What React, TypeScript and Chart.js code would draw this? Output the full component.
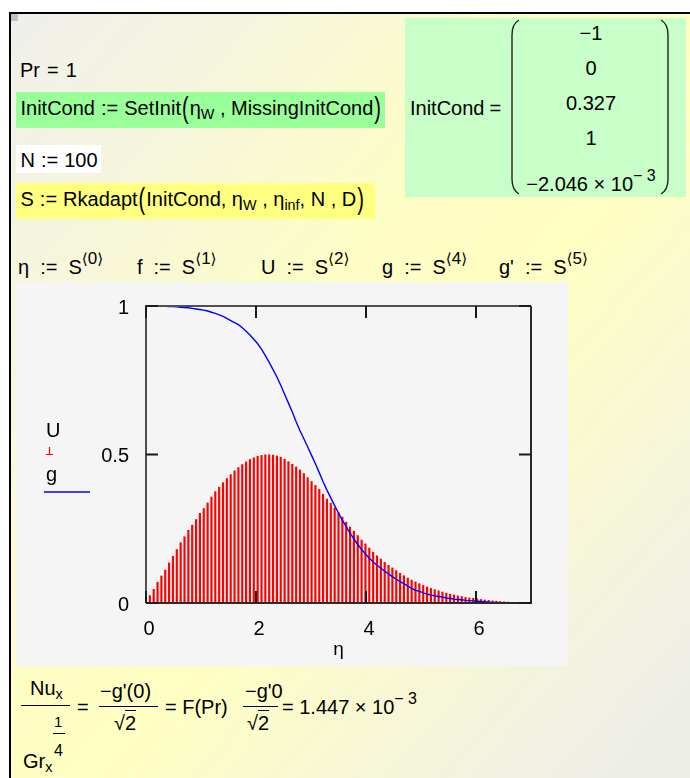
import React, { useEffect, useRef } from "react";
import { Chart, registerables } from "chart.js";

Chart.register(...registerables);

// Similarity variable η (N = 100 steps from η_w = 0 to η_inf = 7)
const etaValues = [
  0, 0.07, 0.14, 0.21, 0.28, 0.35, 0.42, 0.49, 0.56, 0.63,
  0.7, 0.77, 0.84, 0.91, 0.98, 1.05, 1.12, 1.19, 1.26, 1.33,
  1.4, 1.47, 1.54, 1.61, 1.68, 1.75, 1.82, 1.89, 1.96, 2.03,
  2.1, 2.17, 2.24, 2.31, 2.38, 2.45, 2.52, 2.59, 2.66, 2.73,
  2.8, 2.87, 2.94, 3.01, 3.08, 3.15, 3.22, 3.29, 3.36, 3.43,
  3.5, 3.57, 3.64, 3.71, 3.78, 3.85, 3.92, 3.99, 4.06, 4.13,
  4.2, 4.27, 4.34, 4.41, 4.48, 4.55, 4.62, 4.69, 4.76, 4.83,
  4.9, 4.97, 5.04, 5.11, 5.18, 5.25, 5.32, 5.39, 5.46, 5.53,
  5.6, 5.67, 5.74, 5.81, 5.88, 5.95, 6.02, 6.09, 6.16, 6.23,
  6.3, 6.37, 6.44, 6.51, 6.58, 6.65, 6.72, 6.79, 6.86, 6.93,
  7,
];

// Velocity profile U = S<2>
const uValues = [
  0, 0.025, 0.046, 0.07, 0.091, 0.111, 0.135, 0.157, 0.18, 0.203,
  0.223, 0.245, 0.262, 0.281, 0.302, 0.318, 0.337, 0.357, 0.375, 0.39,
  0.405, 0.419, 0.432, 0.445, 0.456, 0.466, 0.475, 0.483, 0.489, 0.494,
  0.497, 0.499, 0.499, 0.498, 0.495, 0.491, 0.484, 0.476, 0.467, 0.458,
  0.448, 0.436, 0.422, 0.409, 0.396, 0.383, 0.366, 0.35, 0.336, 0.32,
  0.304, 0.289, 0.272, 0.256, 0.242, 0.227, 0.212, 0.199, 0.185, 0.171,
  0.159, 0.148, 0.137, 0.127, 0.118, 0.109, 0.1, 0.092, 0.084, 0.077,
  0.071, 0.065, 0.059, 0.054, 0.049, 0.045, 0.041, 0.037, 0.033, 0.03,
  0.027, 0.024, 0.022, 0.019, 0.017, 0.016, 0.014, 0.012, 0.01, 0.009,
  0.007, 0.006, 0.005, 0.004, 0.003, 0.002, 0.002, 0.001, 0.001, 0.001,
  0,
];

// Temperature profile g = S<4>
const gValues = [
  1, 1, 1, 1, 0.999, 0.999, 0.998, 0.998, 0.997, 0.996,
  0.995, 0.994, 0.992, 0.99, 0.988, 0.986, 0.983, 0.979, 0.975, 0.97,
  0.965, 0.958, 0.951, 0.944, 0.937, 0.927, 0.915, 0.902, 0.888, 0.873,
  0.855, 0.833, 0.81, 0.786, 0.761, 0.733, 0.703, 0.673, 0.643, 0.61,
  0.58, 0.553, 0.525, 0.497, 0.469, 0.439, 0.408, 0.38, 0.354, 0.328,
  0.303, 0.279, 0.257, 0.235, 0.216, 0.197, 0.18, 0.165, 0.151, 0.138,
  0.127, 0.117, 0.107, 0.098, 0.089, 0.08, 0.072, 0.065, 0.057, 0.049,
  0.043, 0.039, 0.034, 0.03, 0.027, 0.024, 0.022, 0.02, 0.017, 0.015,
  0.013, 0.012, 0.011, 0.009, 0.008, 0.007, 0.006, 0.005, 0.004, 0.003,
  0.002, 0.002, 0.001, 0.001, 0.001, 0, 0, 0, 0, 0,
  0,
];

const xTickValues = [0, 2, 4, 6];
const yTickValues = [0, 0.5, 1];
const xRange = [0, 7];
const yRange = [0, 1];

// Initial-condition vector shown in the matrix
const initCondRows = ["\u22121", "0", "0.327", "1"];

const FONT = '"Liberation Sans", Arial, Helvetica, sans-serif';
const INK = "#000";

// Mathcad-style plot frame with inward ticks on all four sides
const framePlugin = {
  id: "mathcadFrame",
  afterDatasetsDraw(chart: any) {
    const { ctx, chartArea: a, scales } = chart;
    const xs = scales.x;
    const ys = scales.y;
    const len = 12;
    ctx.save();
    ctx.lineWidth = 2;
    ctx.strokeStyle = "#505050";
    ctx.beginPath();
    ctx.moveTo(a.left, a.bottom);
    ctx.lineTo(a.left, a.top);
    ctx.lineTo(a.right, a.top);
    ctx.stroke();
    ctx.strokeStyle = "#2a2a2a";
    ctx.beginPath();
    ctx.moveTo(a.right, a.top);
    ctx.lineTo(a.right, a.bottom);
    ctx.lineTo(a.left, a.bottom);
    ctx.stroke();
    ctx.strokeStyle = "#1a1a1a";
    ctx.beginPath();
    xTickValues.forEach((v) => {
      const px = xs.getPixelForValue(v);
      ctx.moveTo(px, a.bottom);
      ctx.lineTo(px, a.bottom - len);
      ctx.moveTo(px, a.top);
      ctx.lineTo(px, a.top + len);
    });
    yTickValues.forEach((v) => {
      const py = ys.getPixelForValue(v);
      ctx.moveTo(a.left, py);
      ctx.lineTo(a.left + len, py);
      ctx.moveTo(a.right, py);
      ctx.lineTo(a.right - len, py);
    });
    ctx.stroke();
    ctx.restore();
  },
};

// Trace legend at the left of the plot: U (stem), g (line)
const traceLegendPlugin = {
  id: "traceLegend",
  afterDraw(chart: any) {
    const { ctx } = chart;
    const sets = chart.data.datasets;
    const uSet = sets.find((d: any) => d.label === "U");
    const gSet = sets.find((d: any) => d.label === "g");
    ctx.save();
    ctx.fillStyle = INK;
    ctx.font = `20px ${FONT}`;
    ctx.textBaseline = "alphabetic";
    ctx.textAlign = "left";
    ctx.fillText(uSet.label, 31, 155);
    ctx.strokeStyle = uSet.backgroundColor;
    ctx.lineWidth = 1.2;
    ctx.beginPath();
    ctx.moveTo(34.5, 165);
    ctx.lineTo(34.5, 172.5);
    ctx.moveTo(31, 172.5);
    ctx.lineTo(38, 172.5);
    ctx.stroke();
    ctx.fillText(gSet.label, 31, 199);
    ctx.strokeStyle = gSet.borderColor;
    ctx.lineWidth = 1.5;
    ctx.beginPath();
    ctx.moveTo(29, 210);
    ctx.lineTo(75, 210);
    ctx.stroke();
    ctx.restore();
  },
};

function ProfilePlot() {
  const ref = useRef<HTMLCanvasElement>(null);
  useEffect(() => {
    const canvas = ref.current;
    if (!canvas) return;
    const chart = new Chart(canvas, {
      type: "bar",
      data: {
        datasets: [
          {
            type: "line",
            label: "g",
            data: etaValues.map((x, i) => ({ x, y: gValues[i] })),
            borderColor: "#0000ff",
            borderWidth: 1.4,
            pointRadius: 0,
            tension: 0,
            fill: false,
            order: 0,
          } as any,
          {
            type: "bar",
            label: "U",
            data: etaValues.map((x, i) => ({ x, y: uValues[i] })),
            backgroundColor: "#ff0000",
            borderWidth: 0,
            barThickness: 1.5,
            grouped: false,
            order: 1,
          } as any,
        ],
      },
      options: {
        animation: false,
        responsive: false,
        maintainAspectRatio: false,
        layout: { padding: { left: 0, right: 37, top: 24, bottom: 0 } },
        plugins: { legend: { display: false }, tooltip: { enabled: false } },
        scales: {
          x: {
            type: "linear",
            min: xRange[0],
            max: xRange[1],
            offset: false,
            grid: { display: false },
            border: { display: false },
            afterBuildTicks: (axis: any) => {
              axis.ticks = xTickValues.map((value) => ({ value }));
            },
            afterFit: (axis: any) => {
              axis.height = 63;
            },
            ticks: {
              color: INK,
              font: { family: FONT, size: 20 },
              padding: 6,
              labelOffset: 3,
              maxRotation: 0,
              callback: (v: any) => String(v),
            },
            title: {
              display: true,
              text: "\u03b7",
              color: INK,
              font: { family: FONT, size: 19 },
              padding: { top: 0, bottom: 5 },
            },
          },
          y: {
            type: "linear",
            min: yRange[0],
            max: yRange[1],
            grid: { display: false },
            border: { display: false },
            afterBuildTicks: (axis: any) => {
              axis.ticks = yTickValues.map((value) => ({ value }));
            },
            afterFit: (axis: any) => {
              axis.width = 131;
            },
            ticks: {
              color: INK,
              font: { family: FONT, size: 20 },
              padding: 9,
              labelOffset: 2,
              callback: (v: any) => String(v),
            },
          },
        },
      },
      plugins: [framePlugin, traceLegendPlugin],
    });
    return () => chart.destroy();
  }, []);
  return (
    <canvas
      ref={ref}
      width={553}
      height={384}
      style={{ position: "absolute", left: 15, top: 282, width: 553, height: 384, background: "#f5f5f5" }}
    />
  );
}

type TxtProps = {
  x: number;
  base: number;
  size?: number;
  children: React.ReactNode;
  style?: React.CSSProperties;
};

// Text placed by its left edge and baseline
function Txt({ x, base, size = 20, children, style }: TxtProps) {
  return (
    <div
      style={{
        position: "absolute",
        left: x,
        top: base - 0.8465 * size,
        fontSize: size,
        lineHeight: 1,
        whiteSpace: "pre",
        ...style,
      }}
    >
      {children}
    </div>
  );
}

const Sub = ({ children }: { children: React.ReactNode }) => (
  <span style={{ fontSize: "0.72em", position: "relative", top: "0.3em" }}>{children}</span>
);
const Sup = ({ children }: { children: React.ReactNode }) => (
  <span style={{ fontSize: "0.8em", position: "relative", top: "-0.62em" }}>{children}</span>
);
const Big = ({ children }: { children: React.ReactNode }) => (
  <span style={{ display: "inline-block", transform: "scaleY(1.45)", margin: "0 1px" }}>{children}</span>
);
const Def = ({ gap = 6 }: { gap?: number }) => <span style={{ margin: `0 ${gap}px` }}>:=</span>;
const Eq = ({ gap = 5 }: { gap?: number }) => <span style={{ margin: `0 ${gap}px` }}>=</span>;
const Angle = ({ n }: { n: string }) => (
  <span style={{ fontSize: "0.85em", position: "relative", top: "-0.62em" }}>
    <span style={{ fontFamily: '"DejaVu Sans", sans-serif', fontSize: "0.9em" }}>{"\u27e8"}</span>
    {n}
    <span style={{ fontFamily: '"DejaVu Sans", sans-serif', fontSize: "0.9em" }}>{"\u27e9"}</span>
  </span>
);

function Radical2({ x, base }: { x: number; base: number }) {
  return (
    <Txt x={x} base={base}>
      {"\u221a"}
      <span style={{ borderTop: "1.3px solid #000", paddingTop: 1 }}>2</span>
    </Txt>
  );
}

function Paren({ x, flip }: { x: number; flip?: boolean }) {
  return (
    <svg
      width={12}
      height={176}
      style={{ position: "absolute", left: x, top: 19, transform: flip ? "scaleX(-1)" : undefined }}
    >
      <path d="M10,1 Q3,5 3,16 L3,160 Q3,171 10,175" fill="none" stroke="#222" strokeWidth={1.4} />
    </svg>
  );
}

export default function App() {
  return (
    <div
      style={{
        position: "absolute",
        left: 0,
        top: 0,
        width: 690,
        height: 778,
        overflow: "hidden",
        fontFamily: FONT,
        color: INK,
        background: "#ffffff",
      }}
    >
      <div
        style={{
          position: "absolute",
          left: 9,
          top: 12,
          width: 681,
          height: 766,
          borderTop: "2px solid #000",
          borderLeft: "2px solid #000",
          boxSizing: "border-box",
          background:
            "linear-gradient(to bottom right, #efefec 0%, #f6f6dc 20%, #fdfdc6 40%, #ffffc2 56%, #f7f7d6 74%, #eeeee9 94%)",
        }}
      />
      <div style={{ position: "absolute", left: 11, top: 14, width: 7, height: 7, background: "#c2c2c2" }} />

      {/* worksheet definitions */}
      <Txt x={20} base={77}>
        Pr
        <Eq gap={7} />1
      </Txt>

      <div style={{ position: "absolute", left: 16, top: 92, width: 369, height: 36, background: "#99ff99" }} />
      <Txt x={20.5} base={115}>
        InitCond
        <Def />
        SetInit
        <Big>(</Big>
        {"\u03b7"}
        <Sub>W</Sub>
        {" , MissingInitCond"}
        <Big>)</Big>
      </Txt>

      <div style={{ position: "absolute", left: 16, top: 145, width: 85, height: 28, background: "#ffffff" }} />
      <Txt x={20.5} base={166.5}>
        N
        <Def />
        100
      </Txt>

      <div style={{ position: "absolute", left: 16, top: 183, width: 359, height: 36, background: "#ffff80" }} />
      <Txt x={20.5} base={205.5}>
        S
        <Def />
        Rkadapt
        <Big>(</Big>
        {"InitCond, \u03b7"}
        <Sub>W</Sub>
        {" , \u03b7"}
        <Sub>inf</Sub>
        {", N , D"}
        <Big>)</Big>
      </Txt>

      {/* evaluated initial conditions */}
      <div style={{ position: "absolute", left: 405, top: 18, width: 281, height: 179, background: "#c8ffc8" }} />
      <Txt x={410} base={115}>
        InitCond
        <Eq />
      </Txt>
      <Paren x={509} />
      <Paren x={659} flip />
      {initCondRows.map((row, i) => (
        <Txt key={row} x={491} base={40 + 35 * i} style={{ width: 200, textAlign: "center" }}>
          {row}
        </Txt>
      ))}
      <Txt x={491} base={191} style={{ width: 200, textAlign: "center" }}>
        {"\u22122.046 \u00d7 10"}
        <Sup>{"\u2212 3"}</Sup>
      </Txt>

      {/* column extraction */}
      <Txt x={18} base={274}>
        {"\u03b7"}
        <Def gap={11} />
        S
        <Angle n="0" />
      </Txt>
      <Txt x={137} base={274}>
        f
        <Def gap={11} />
        S
        <Angle n="1" />
      </Txt>
      <Txt x={261} base={274}>
        U
        <Def gap={11} />
        S
        <Angle n="2" />
      </Txt>
      <Txt x={382} base={274}>
        g
        <Def gap={11} />
        S
        <Angle n="4" />
      </Txt>
      <Txt x={499} base={274}>
        g'
        <Def gap={11} />
        S
        <Angle n="5" />
      </Txt>

      <ProfilePlot />

      {/* Nusselt number relation */}
      <Txt x={30} base={695}>
        Nu<Sub>x</Sub>
      </Txt>
      <div style={{ position: "absolute", left: 21, top: 705, width: 49, height: 1.3, background: INK }} />
      <Txt x={54} base={727} size={15}>
        1
      </Txt>
      <div style={{ position: "absolute", left: 53, top: 733, width: 12, height: 1.2, background: INK }} />
      <Txt x={54} base={757} size={16}>
        4
      </Txt>
      <Txt x={23} base={768}>
        Gr<Sub>x</Sub>
      </Txt>
      <Txt x={77} base={714}>
        =
      </Txt>
      <Txt x={100} base={698}>
        {"\u2212g'(0)"}
      </Txt>
      <div style={{ position: "absolute", left: 99, top: 706, width: 59, height: 1.3, background: INK }} />
      <Radical2 x={114} base={730} />
      <Txt x={165} base={714}>
        {"= F(Pr)"}
      </Txt>

      <Txt x={245} base={698}>
        {"\u2212g'0"}
      </Txt>
      <div style={{ position: "absolute", left: 243, top: 706, width: 35, height: 1.3, background: INK }} />
      <Radical2 x={247} base={730} />
      <Txt x={282} base={714}>
        {"= 1.447 \u00d7 10"}
        <Sup>{"\u2212 3"}</Sup>
      </Txt>
    </div>
  );
}
